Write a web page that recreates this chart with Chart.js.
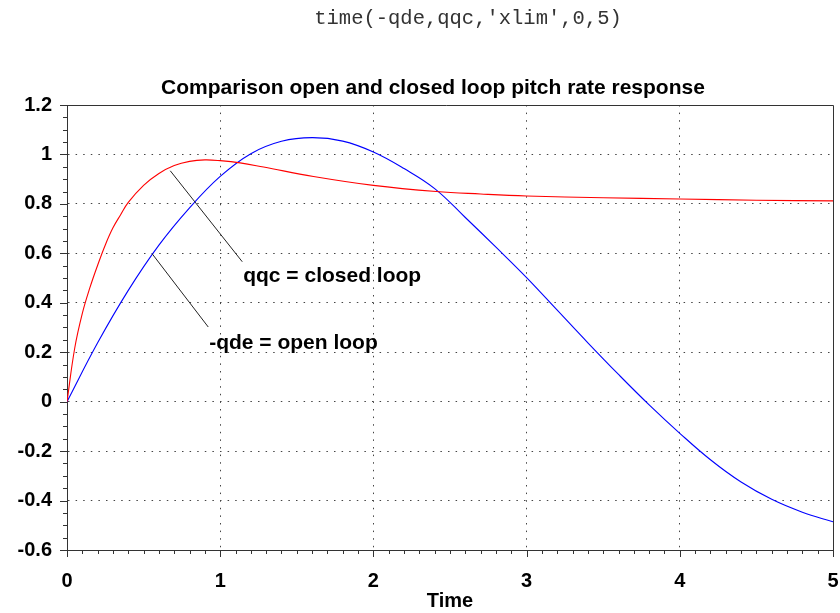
<!DOCTYPE html>
<html>
<head>
<meta charset="utf-8">
<script src="https://cdn.jsdelivr.net/npm/chart.js@4.4.1/dist/chart.umd.min.js"></script>
<style>
html,body{margin:0;padding:0;background:#fff;}
#wrap{position:relative;width:840px;height:613px;}
canvas{display:block;}
</style>
</head>
<body>
<div id="wrap"><canvas id="c" width="840" height="613"></canvas></div>
<script>
// ---- data ----
const qqcTime   = [0, 0.05, 0.1, 0.15, 0.2, 0.25, 0.3, 0.35, 0.4, 0.5, 0.6, 0.7, 0.8, 0.9, 1.0, 1.13, 1.283, 1.609, 2.0, 2.41, 2.7, 3.0, 3.5, 4.0, 4.5, 5.0];
const qqcValues = [0, 0.215, 0.357, 0.462, 0.552, 0.634, 0.703, 0.756, 0.806, 0.875, 0.923, 0.955, 0.972, 0.978, 0.975, 0.966, 0.949, 0.911, 0.875, 0.85, 0.84, 0.832, 0.825, 0.82, 0.815, 0.812];

const qdeTime   = [0, 0.2, 0.4, 0.6, 0.8, 1.0, 1.2, 1.4, 1.6, 1.8, 2.0, 2.2, 2.4, 2.6, 2.8, 3.0, 3.2, 3.4, 3.6, 3.8, 4.0, 4.2, 4.4, 4.6, 4.8, 5.0];
const qdeValues = [0, 0.238, 0.45, 0.633, 0.784, 0.911, 1.003, 1.053, 1.068, 1.054, 1.01, 0.943, 0.862, 0.745, 0.625, 0.502, 0.37, 0.238, 0.11, -0.013, -0.128, -0.235, -0.325, -0.395, -0.447, -0.486];

const xTicks = [0, 1, 2, 3, 4, 5];
const xTickLabels = ['0', '1', '2', '3', '4', '5'];
const yTicks = [-0.6, -0.4, -0.2, 0, 0.2, 0.4, 0.6, 0.8, 1, 1.2];
const yTickLabels = ['-0.6', '-0.4', '-0.2', '0', '0.2', '0.4', '0.6', '0.8', '1', '1.2'];

const commandText = "time(-qde,qqc,'xlim',0,5)";
const chartTitle = 'Comparison open and closed loop pitch rate response';
const xAxisTitle = 'Time';

const annotationLabels = ['qqc = closed loop', '-qde = open loop'];
const annotationLabelAt = [[1.15, 0.508], [0.928, 0.237]];
const annotationLineFrom = [[0.674, 0.934], [0.556, 0.598]];
const annotationLineTo = [[1.144, 0.566], [0.922, 0.302]];

// ---- drawing ----
const FONT = '"Liberation Sans", Arial, Helvetica, sans-serif';
const AXIS_COLOR = '#333';

function toPoints(ts, vs) { return ts.map((t, i) => ({x: t, y: vs[i]})); }

const decor = {
  id: 'decor',
  afterDraw(chart) {
    const {ctx, chartArea: a, scales: {x, y}} = chart;
    ctx.save();
    // frame (top and right)
    ctx.strokeStyle = AXIS_COLOR;
    ctx.lineWidth = 1;
    ctx.beginPath();
    ctx.moveTo(a.left - 7, Math.round(a.top) + 0.5);
    ctx.lineTo(Math.round(a.right) + 0.5, Math.round(a.top) + 0.5);
    ctx.lineTo(Math.round(a.right) + 0.5, Math.round(a.bottom) + 7);
    ctx.stroke();
    // x ticks (major + minor)
    ctx.beginPath();
    for (let k = 0; k <= 50; k++) {
      const v = k / 10;
      const px = Math.round(x.getPixelForValue(v)) + 0.5;
      const len = (k % 10 === 0) ? 7 : 4;
      ctx.moveTo(px, a.bottom);
      ctx.lineTo(px, a.bottom + len);
    }
    // y ticks (major + minor)
    for (let k = 0; k <= 36; k++) {
      const v = -0.6 + k * 0.05;
      const py = Math.round(y.getPixelForValue(v)) + 0.5;
      const len = (k % 4 === 0) ? 7 : 4;
      ctx.moveTo(a.left - len, py);
      ctx.lineTo(a.left, py);
    }
    ctx.stroke();

    // annotation lines
    ctx.strokeStyle = '#222';
    ctx.lineWidth = 1;
    for (let i = 0; i < annotationLineFrom.length; i++) {
      ctx.beginPath();
      ctx.moveTo(x.getPixelForValue(annotationLineFrom[i][0]), y.getPixelForValue(annotationLineFrom[i][1]));
      ctx.lineTo(x.getPixelForValue(annotationLineTo[i][0]), y.getPixelForValue(annotationLineTo[i][1]));
      ctx.stroke();
    }
    // annotation labels
    ctx.fillStyle = '#000';
    ctx.font = 'bold 21px ' + FONT;
    ctx.textAlign = 'left';
    ctx.textBaseline = 'middle';
    for (let i = 0; i < annotationLabels.length; i++) {
      ctx.fillText(annotationLabels[i], x.getPixelForValue(annotationLabelAt[i][0]), y.getPixelForValue(annotationLabelAt[i][1]));
    }

    // title
    ctx.textAlign = 'center';
    ctx.font = 'bold 21px ' + FONT;
    ctx.fillText(chartTitle, 433, 88);
    // command line
    ctx.fillStyle = '#333';
    ctx.font = '20.5px "Liberation Mono", "Courier New", monospace';
    ctx.fillText(commandText, 468, 19);
    ctx.restore();
  }
};

const gridColor = (lo, hi) => (c) => {
  const v = c.tick ? c.tick.value : null;
  return (v === null || v <= lo + 1e-9 || v >= hi - 1e-9) ? 'rgba(0,0,0,0)' : '#444';
};

function noPad(s) { s.paddingLeft = 0; s.paddingRight = 0; s.paddingTop = 0; s.paddingBottom = 0; }

new Chart(document.getElementById('c'), {
  type: 'line',
  data: {
    datasets: [
      {
        label: 'qqc',
        data: toPoints(qqcTime, qqcValues),
        borderColor: 'rgb(255,0,0)',
        borderWidth: 1.1,
        pointRadius: 0,
        fill: false,
        tension: 0.4
      },
      {
        label: '-qde',
        data: toPoints(qdeTime, qdeValues),
        borderColor: 'rgb(0,0,255)',
        borderWidth: 1.1,
        pointRadius: 0,
        fill: false,
        tension: 0.4
      }
    ]
  },
  options: {
    responsive: false,
    animation: false,
    devicePixelRatio: 1,
    layout: {padding: {top: 105, right: 7, left: 0, bottom: 0}},
    plugins: {legend: {display: false}, tooltip: {enabled: false}, title: {display: false}},
    scales: {
      x: {
        type: 'linear', min: 0, max: 5,
        afterFit(s) { s.height = 63; noPad(s); },
        afterBuildTicks(s) { s.ticks = xTicks.map(v => ({value: v})); },
        ticks: {
          padding: 19, color: '#000', maxRotation: 0, autoSkip: false,
          font: {family: FONT, size: 20, weight: 'bold'},
          callback: (v) => xTickLabels[xTicks.indexOf(v)]
        },
        grid: {drawTicks: false, lineWidth: 1, color: gridColor(0, 5)},
        border: {color: AXIS_COLOR, width: 1, dash: [1.5, 6.1]},
        title: {display: true, text: xAxisTitle, color: '#000', padding: {top: 0, bottom: 0},
                font: {family: FONT, size: 20, weight: 'bold'}}
      },
      y: {
        type: 'linear', min: -0.6, max: 1.2,
        afterFit(s) { s.width = 67; noPad(s); },
        afterBuildTicks(s) { s.ticks = yTicks.map(v => ({value: v})); },
        ticks: {
          padding: 15, color: '#000', autoSkip: false,
          font: {family: FONT, size: 20, weight: 'bold'},
          callback: (v) => yTickLabels[yTicks.findIndex(t => Math.abs(t - v) < 1e-9)]
        },
        grid: {drawTicks: false, lineWidth: 1, color: gridColor(-0.6, 1.2)},
        border: {color: AXIS_COLOR, width: 1, dash: [1.5, 6.1]}
      }
    }
  },
  plugins: [decor]
});
</script>
</body>
</html>
